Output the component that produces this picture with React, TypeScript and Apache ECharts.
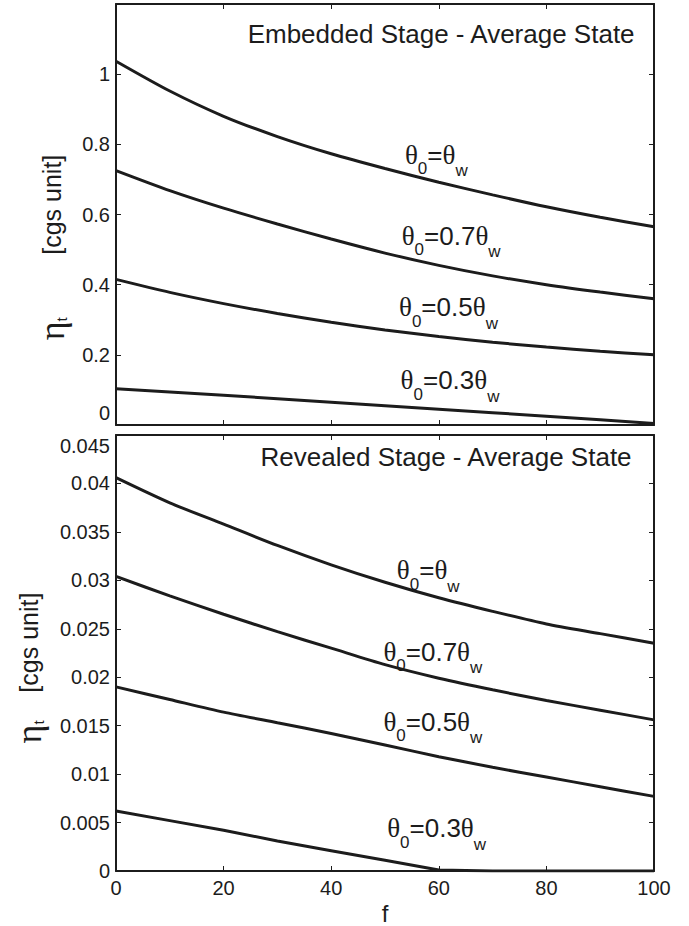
import React, { useEffect, useRef } from 'react';
import * as echarts from 'echarts';

// ---------- data ----------
const fValues = [0, 10, 20, 30, 40, 50, 60, 70, 80, 90, 100];

const embeddedTheta100 = [1.037, 0.952, 0.880, 0.822, 0.773, 0.731, 0.692, 0.656, 0.622, 0.592, 0.565];
const embeddedTheta70 = [0.725, 0.668, 0.618, 0.573, 0.530, 0.490, 0.455, 0.425, 0.400, 0.379, 0.360];
const embeddedTheta50 = [0.415, 0.378, 0.346, 0.318, 0.293, 0.271, 0.252, 0.236, 0.222, 0.210, 0.200];
const embeddedTheta30 = [0.103, 0.094, 0.085, 0.075, 0.065, 0.055, 0.045, 0.035, 0.025, 0.015, 0.004];

const revealedTheta100 = [0.0406, 0.0380, 0.0358, 0.0336, 0.0316, 0.0298, 0.0282, 0.0268, 0.0255, 0.0245, 0.0235];
const revealedTheta70 = [0.0304, 0.0284, 0.0265, 0.0247, 0.0230, 0.0213, 0.0199, 0.0187, 0.0176, 0.0166, 0.0156];
const revealedTheta50 = [0.0190, 0.0177, 0.0164, 0.0153, 0.0142, 0.0130, 0.0118, 0.0107, 0.0097, 0.0087, 0.0077];
const revealedTheta30 = [0.0062, 0.0052, 0.0042, 0.0031, 0.0021, 0.0011, 0.0001, 0, 0, 0, 0];

const curveNames = ['θ0=θw', 'θ0=0.7θw', 'θ0=0.5θw', 'θ0=0.3θw'];
const curveCoefs = ['', '0.7', '0.5', '0.3'];
const panelTitles = ['Embedded Stage - Average State', 'Revealed Stage - Average State'];

// label anchors (data coords of the left/middle of each curve label)
const embeddedLabelF = [53.7, 53.1, 52.6, 52.9];
const embeddedLabelV = [0.770, 0.540, 0.336, 0.127];
const revealedLabelF = [52.2, 49.7, 49.7, 50.4];
const revealedLabelV = [0.03106, 0.02262, 0.01539, 0.00441];

// ---------- styling ----------
const SANS = '"Liberation Sans", Arial, Helvetica, sans-serif';
const SERIF = '"Liberation Serif", "Times New Roman", serif';
const INK = '#1c1c1c';

const pairs = (ys: number[]) => fValues.map((f, i) => [f, ys[i]]);

const thetaRich = {
  g: { fontFamily: SERIF, fontSize: 27, color: INK },
  n: { fontFamily: SANS, fontSize: 26, color: INK },
  s: { fontFamily: SANS, fontSize: 17, color: INK, padding: [28, 0, 0, 0] },
  w: { fontFamily: SANS, fontSize: 17, color: INK, padding: [32, 0, 0, 0] },
};
const thetaText = (coef: string) => `{g|θ}{s|0}{n|=${coef}}{g|θ}{w|w}`;

const fmt = (v: number) => String(parseFloat(v.toFixed(5)));

export default function App() {
  const ref = useRef<HTMLDivElement>(null);

  useEffect(() => {
    if (!ref.current) return;
    const chart = echarts.init(ref.current, undefined, { renderer: 'svg' });

    const axisLine = { show: true, onZero: false, lineStyle: { color: INK, width: 2 } };
    const axisTick = { show: true, inside: true, length: 5, lineStyle: { color: INK, width: 1 } };
    const labelBase = { color: INK, fontFamily: SANS, fontSize: 20 };

    const xAxisBase = (gridIndex: number, position: string, showLabel: boolean) => ({
      type: 'value',
      gridIndex,
      position,
      min: 0,
      max: 100,
      interval: 20,
      axisLine,
      axisTick,
      splitLine: { show: false },
      axisLabel: { show: showLabel, margin: 7, ...labelBase },
    });

    const yName = (spaces: string) => `{e|η}{t|t}{n|${spaces}[cgs unit]}`;
    const yNameStyle = (padRight: number) => ({
      color: INK,
      fontFamily: SANS,
      fontSize: 25,
      padding: [0, padRight, 0, 0],
      rich: {
        e: { fontFamily: SERIF, fontSize: 36, color: INK },
        t: { fontFamily: SANS, fontSize: 15, color: INK, padding: [18, 0, 0, 0] },
        n: { fontFamily: SANS, fontSize: 25, color: INK },
      },
    });

    const lineSeries = (name: string, ys: number[], xi: number, yi: number, smooth: boolean) => ({
      type: 'line',
      name,
      xAxisIndex: xi,
      yAxisIndex: yi,
      data: pairs(ys),
      showSymbol: false,
      symbol: 'none',
      smooth: smooth ? 0.25 : false,
      lineStyle: { color: INK, width: 3 },
      itemStyle: { color: INK },
      silent: true,
    });

    const option: any = {
      animation: false,
      backgroundColor: '#ffffff',
      title: [
        {
          text: panelTitles[0],
          right: 53,
          top: 21,
          padding: 0,
          textStyle: { color: INK, fontFamily: SANS, fontSize: 26, fontWeight: 'normal' },
        },
        {
          text: panelTitles[1],
          right: 56,
          top: 444,
          padding: 0,
          textStyle: { color: INK, fontFamily: SANS, fontSize: 26, fontWeight: 'normal' },
        },
      ],
      grid: [
        { left: 116, top: 4, width: 538, height: 421 },
        { left: 116, top: 435, width: 538, height: 436 },
      ],
      xAxis: [
        xAxisBase(0, 'bottom', false),
        xAxisBase(0, 'top', false),
        {
          ...xAxisBase(1, 'bottom', true),
          name: 'f',
          nameLocation: 'middle',
          nameGap: 30,
          nameTextStyle: { color: INK, fontFamily: SANS, fontSize: 24 },
        },
        xAxisBase(1, 'top', false),
      ],
      yAxis: [
        {
          type: 'value',
          gridIndex: 0,
          position: 'left',
          min: 0,
          max: 1.2,
          interval: 0.2,
          axisLine,
          axisTick,
          splitLine: { show: false },
          axisLabel: {
            ...labelBase,
            margin: 6,
            formatter: (v: number) => {
              if (Math.abs(v - 1.2) < 1e-9) return '';
              if (Math.abs(v) < 1e-12) return '{z|0}';
              return fmt(v);
            },
            rich: { z: { ...labelBase, padding: [0, 0, 25, 0] } },
          },
          name: yName('         '),
          nameLocation: 'middle',
          nameRotate: 90,
          nameGap: 46,
          nameTextStyle: yNameStyle(66),
        },
        {
          type: 'value',
          gridIndex: 0,
          position: 'right',
          min: 0,
          max: 1.2,
          interval: 0.2,
          axisLine,
          axisTick,
          splitLine: { show: false },
          axisLabel: { show: false },
        },
        {
          type: 'value',
          gridIndex: 1,
          position: 'left',
          min: 0,
          max: 0.045,
          interval: 0.005,
          axisLine,
          axisTick,
          splitLine: { show: false },
          axisLabel: {
            ...labelBase,
            margin: 6,
            formatter: (v: number) => {
              if (Math.abs(v - 0.045) < 1e-9) return '{d|0.045}';
              return fmt(v);
            },
            rich: { d: { ...labelBase, padding: [22, 0, 0, 0] } },
          },
          name: yName('    '),
          nameLocation: 'middle',
          nameRotate: 90,
          nameGap: 69,
          nameTextStyle: yNameStyle(30),
        },
        {
          type: 'value',
          gridIndex: 1,
          position: 'right',
          min: 0,
          max: 0.045,
          interval: 0.005,
          axisLine,
          axisTick,
          splitLine: { show: false },
          axisLabel: { show: false },
        },
      ],
      series: [
        lineSeries(curveNames[0] + ' embedded', embeddedTheta100, 0, 0, true),
        lineSeries(curveNames[1] + ' embedded', embeddedTheta70, 0, 0, true),
        lineSeries(curveNames[2] + ' embedded', embeddedTheta50, 0, 0, true),
        lineSeries(curveNames[3] + ' embedded', embeddedTheta30, 0, 0, false),
        lineSeries(curveNames[0] + ' revealed', revealedTheta100, 2, 2, true),
        lineSeries(curveNames[1] + ' revealed', revealedTheta70, 2, 2, true),
        lineSeries(curveNames[2] + ' revealed', revealedTheta50, 2, 2, true),
        lineSeries(curveNames[3] + ' revealed', revealedTheta30, 2, 2, false),
      ],
    };

    chart.setOption(option);

    const graphics: any[] = [];
    curveCoefs.forEach((coef, i) => {
      const p1 = chart.convertToPixel({ seriesIndex: 0 }, [embeddedLabelF[i], embeddedLabelV[i]]) as number[];
      const p2 = chart.convertToPixel({ seriesIndex: 4 }, [revealedLabelF[i], revealedLabelV[i]]) as number[];
      [p1, p2].forEach((p) => {
        graphics.push({
          type: 'text',
          x: p[0],
          y: p[1],
          silent: true,
          style: {
            text: thetaText(coef),
            rich: thetaRich,
            align: 'left',
            verticalAlign: 'middle',
            fill: INK,
          },
        });
      });
    });
    chart.setOption({ graphic: graphics });

    return () => chart.dispose();
  }, []);

  return (
    <div
      ref={ref}
      style={{ position: 'absolute', left: 0, top: 0, width: 689, height: 926, background: '#fff' }}
    />
  );
}
